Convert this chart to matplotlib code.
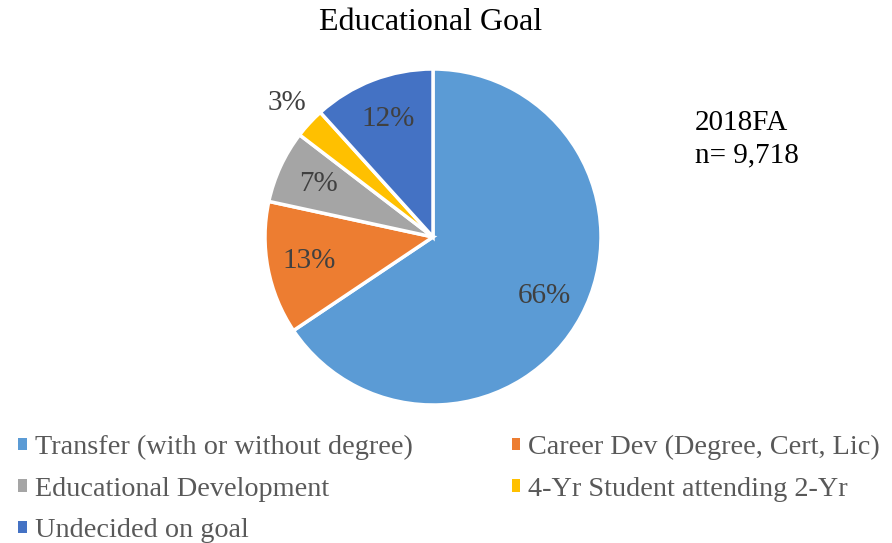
import matplotlib.pyplot as plt
import numpy as np
from matplotlib.patches import Patch

plt.rcParams['font.family'] = ['Liberation Serif', 'DejaVu Serif']

# data
goals = ['Transfer (with or without degree)', 'Career Dev (Degree, Cert, Lic)',
         'Educational Development', '4-Yr Student attending 2-Yr',
         'Undecided on goal']
shares = [65.6, 12.8, 7.0, 2.9, 11.7]
colors = ['#5B9BD5', '#ED7D31', '#A5A5A5', '#FFC000', '#4472C4']

W, H = 892, 543
fig = plt.figure(figsize=(W / 100, H / 100), dpi=100)

# pie axes: centre (433, 237) px, radius 168 px
cx, cy, r = 433, 237, 168
ax = fig.add_axes([(cx - r) / W, (H - cy - r) / H, 2 * r / W, 2 * r / H])
wedges, texts, autotexts = ax.pie(
    shares, colors=colors, startangle=90, counterclock=False,
    autopct=lambda p: '%d%%' % round(p), pctdistance=0.75,
    wedgeprops=dict(edgecolor='white', linewidth=2.5),
    textprops=dict(fontsize=21, color='#404040'))
ax.set_xlim(-1, 1)
ax.set_ylim(-1, 1)
ax.set_aspect('equal')
ax.axis('off')

# the small slice gets its label outside the pie
w = wedges[3]
ang = np.deg2rad((w.theta1 + w.theta2) / 2)
autotexts[3].set_position((1.18 * np.cos(ang), 1.18 * np.sin(ang)))

fig.text(431 / W, 1 - 23 / H, 'Educational Goal', ha='center', va='center',
         fontsize=23, color='black')
fig.text(695 / W, 1 - 139 / H, '2018FA\nn= 9,718', ha='left', va='center',
         fontsize=21, color='black', linespacing=1.32)

# legend, row-major order like the original
handles = [Patch(facecolor=c, edgecolor='none') for c in colors]
order = [0, 2, 4, 1, 3]
leg = fig.legend([handles[i] for i in order], [goals[i] for i in order],
                 ncol=2, loc='upper left', bbox_to_anchor=(4 / W, 1 - 421 / H),
                 frameon=False, fontsize=20.3, handlelength=0.3, handleheight=0.3,
                 handletextpad=0.3, columnspacing=3.5, labelspacing=0.58,
                 borderpad=0, labelcolor='#595959')

fig.savefig('out.png', dpi=100)
